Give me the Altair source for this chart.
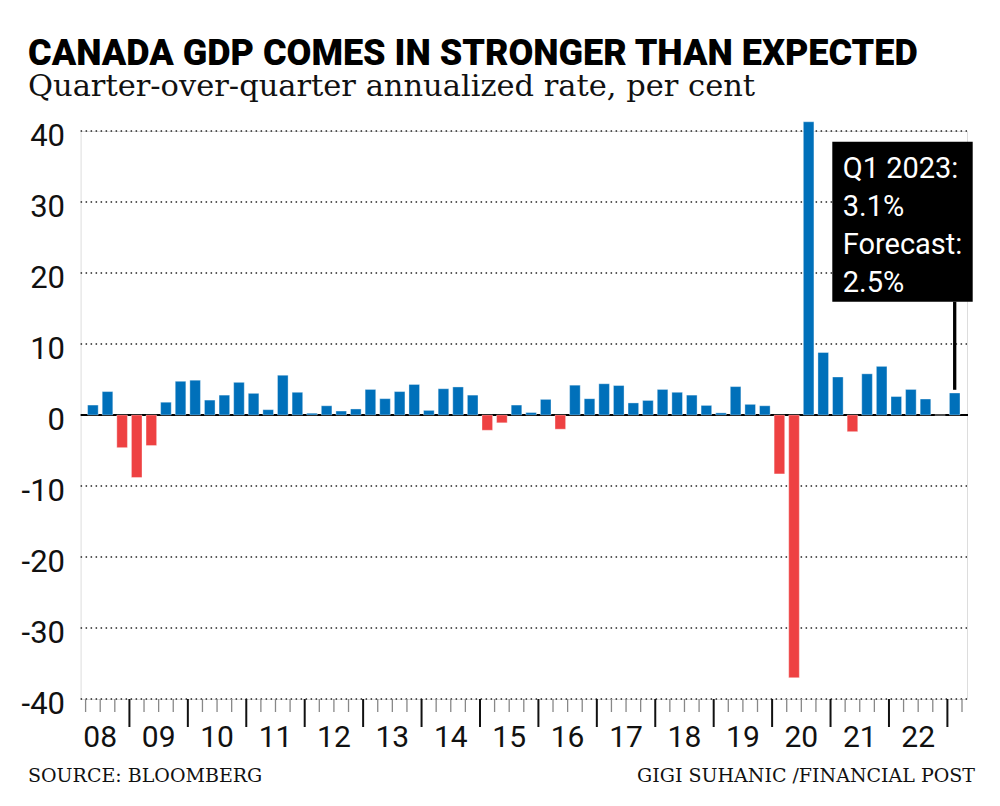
import altair as alt
import pandas as pd

# ---------------- data ----------------
start_year = 2008
start_quarter = 2
growth = [1.4, 3.3, -4.6, -8.8, -4.3, 1.8, 4.75, 4.9, 2.1, 2.8,
          4.6, 3.05, 0.75, 5.6, 3.2, 0.25, 1.3, 0.55, 0.85, 3.6,
          2.3, 3.3, 4.3, 0.65, 3.7, 3.95, 2.8, -2.15, -1.1, 1.4,
          0.35, 2.2, -2.0, 4.2, 2.3, 4.4, 4.15, 1.7, 2.05, 3.6,
          3.2, 2.8, 1.35, 0.3, 4.0, 1.5, 1.3, -8.3, -37.0, 41.3,
          8.8, 5.35, -2.35, 5.8, 6.85, 2.6, 3.6, 2.25, 0.0, 3.1]
label_years = list(range(2008, 2023))
year_labels = ["08", "09", "10", "11", "12", "13", "14", "15",
               "16", "17", "18", "19", "20", "21", "22"]
y_ticks = [-40, -30, -20, -10, 0, 10, 20, 30, 40]
y_tick_labels = ["-40", "-30", "-20", "-10", "0", "10", "20", "30", "40"]
grid_vals = [-40, -30, -20, -10, 10, 20, 30, 40]

title = "CANADA GDP COMES IN STRONGER THAN EXPECTED"
subtitle = "Quarter-over-quarter annualized rate, per cent"
source = "SOURCE: BLOOMBERG"
credit = "GIGI SUHANIC /FINANCIAL POST"
note_lines = ["Q1 2023:", "3.1%", "Forecast:", "2.5%"]

# ---------------- layout ----------------
W, H = 886.4, 568
X0, X1 = 2008.25, 2023.25
SANS = "Roboto, Liberation Sans, sans-serif"
SERIF = "DejaVu Serif, serif"
BLUE = "#0070BA"
RED = "#EE4142"

# periods
ts, labels = [], []
yr, q = start_year, start_quarter
for v in growth:
    ts.append(yr + (q - 0.5) / 4)
    labels.append(f"Q{q} {yr}")
    q += 1
    if q == 5:
        q = 1
        yr += 1

df = pd.DataFrame({"t": ts, "v": growth, "period": labels})
df["sign"] = ["neg" if v < 0 else "pos" for v in growth]

xs = alt.Scale(domain=[X0, X1], nice=False, zero=False)
ys = alt.Scale(domain=[-40, 40], nice=False)

grid = alt.Chart(pd.DataFrame({"g": grid_vals})).mark_rule(
    strokeDash=[1.5, 3.5], strokeWidth=1.6, color="#222"
).encode(y=alt.Y("g:Q", scale=ys, axis=None), x=alt.value(0), x2=alt.value(W))

bars = alt.Chart(df).mark_bar(size=10.6, stroke="white", strokeWidth=0.8, strokeOpacity=0.45).encode(
    x=alt.X("t:Q", scale=xs, axis=None),
    y=alt.Y("v:Q", scale=ys, axis=None),
    color=alt.Color("sign:N", scale=alt.Scale(domain=["pos", "neg"], range=[BLUE, RED]), legend=None),
)

zero = alt.Chart(pd.DataFrame({"z": [0]})).mark_rule(color="black", strokeWidth=2.2).encode(
    y=alt.Y("z:Q", scale=ys, axis=None), x=alt.value(0), x2=alt.value(W + 1)
)

bounds = [X0 + 0.25 * k for k in range(int(round((X1 - X0) * 4)) + 1)]
minor_b = [b for b in bounds if abs(b - round(b)) > 1e-9]
major_b = [b for b in bounds if abs(b - round(b)) <= 1e-9]

minor = alt.Chart(pd.DataFrame({"b": minor_b})).mark_rule(color="#888", strokeWidth=1.3).encode(
    x=alt.X("b:Q", scale=xs, axis=None), y=alt.value(H), y2=alt.value(H + 13)
)
major = alt.Chart(pd.DataFrame({"b": major_b})).mark_rule(color="#111", strokeWidth=2).encode(
    x=alt.X("b:Q", scale=xs, axis=None), y=alt.value(H), y2=alt.value(H + 28)
)

xlab = alt.Chart(pd.DataFrame({"yr": [y + 0.5 for y in label_years], "lab": year_labels})).mark_text(
    font=SANS, fontSize=30, color="#111", align="center", baseline="alphabetic"
).encode(x=alt.X("yr:Q", scale=xs, axis=None), y=alt.value(H + 48), text="lab:N")

ylab = alt.Chart(pd.DataFrame({"yv": y_ticks, "lab": y_tick_labels})).mark_text(
    font=SANS, fontSize=31, color="#111", align="right", baseline="alphabetic", dy=15
).encode(y=alt.Y("yv:Q", scale=ys, axis=None), x=alt.value(-15.6), text="lab:N")

def txt(s, x, y, font, size, weight="normal", align="left", color="#111"):
    return alt.Chart(pd.DataFrame({"s": [s]})).mark_text(
        font=font, fontSize=size, fontWeight=weight, align=align, baseline="alphabetic", color=color
    ).encode(x=alt.value(x), y=alt.value(y), text="s:N")

t_title = txt(title, -52.6, -66, SANS, 36, weight=900, color="#000")
t_sub = txt(subtitle, -52.6, -35, SERIF, 30.5, color="#111")
t_src = txt(source, -52.6, 651, SERIF, 19)
t_cred = txt(credit, 894.4, 651, SERIF, 19, align="right")

box = alt.Chart(pd.DataFrame({"k": [1]})).mark_rect(color="black").encode(
    x=alt.value(751.7), x2=alt.value(892.1), y=alt.value(10.7), y2=alt.value(170.7)
)
last = df.tail(1).copy()
last["top"] = last["v"] + 0.45
leader = alt.Chart(last).mark_rule(color="black", strokeWidth=3.3).encode(
    x=alt.X("t:Q", scale=xs, axis=None), y=alt.Y("top:Q", scale=ys, axis=None), y2=alt.value(170.7)
)
note = alt.Chart(pd.DataFrame({"s": note_lines, "i": list(range(len(note_lines)))})).mark_text(
    font=SANS, fontSize=29, color="white", align="left", baseline="alphabetic"
).encode(x=alt.value(762.1), y=alt.Y("i:Q", scale=alt.Scale(domain=[0, 3], range=[47, 161]), axis=None), text="s:N")

chart = alt.layer(
    grid, zero, bars, minor, major, xlab, ylab, t_title, t_sub, t_src, t_cred, box, leader, note
).resolve_scale(y="independent").properties(
    width=W, height=H,
    autosize=alt.AutoSizeParams(type="none"),
    padding={"left": 72.6, "top": 123, "right": 20, "bottom": 95},
).configure_view(stroke=None).configure(background="white")

chart.save("out.html", embed_options={"renderer": "svg", "actions": False})
